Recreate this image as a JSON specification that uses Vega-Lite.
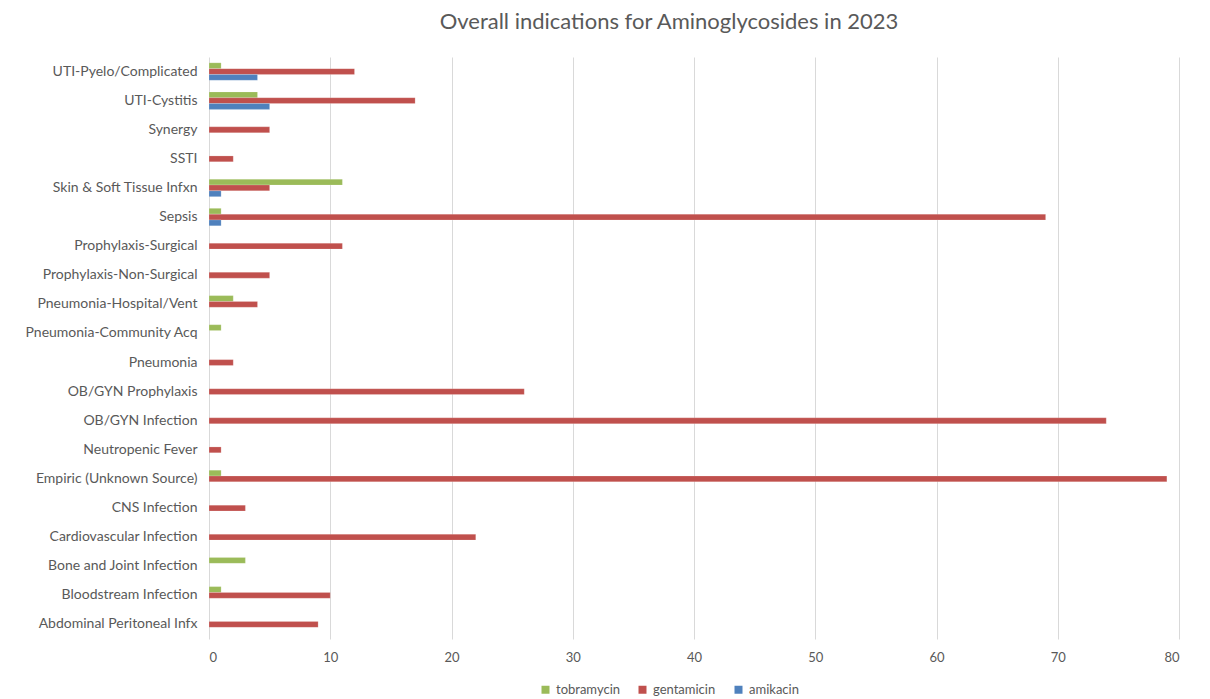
{
  "$schema": "https://vega.github.io/schema/vega-lite/v6.json",
  "autosize": {"type": "none"},
  "padding": {"left": 209, "top": 57, "right": 31, "bottom": 60},
  "width": 970,
  "height": 582,
  "background": "#ffffff",
  "view": {"stroke": null},
  "title": {
    "text": "Overall indications for Aminoglycosides in 2023",
    "font": "Lato",
    "fontSize": 22,
    "fontWeight": "normal",
    "color": "#595959",
    "anchor": "middle",
    "frame": "group",
    "dx": -25,
    "offset": 23
  },
  "data": {
    "values": [
      {"indication": "UTI-Pyelo/Complicated", "drug": "tobramycin", "count": 1},
      {"indication": "UTI-Pyelo/Complicated", "drug": "gentamicin", "count": 12},
      {"indication": "UTI-Pyelo/Complicated", "drug": "amikacin", "count": 4},
      {"indication": "UTI-Cystitis", "drug": "tobramycin", "count": 4},
      {"indication": "UTI-Cystitis", "drug": "gentamicin", "count": 17},
      {"indication": "UTI-Cystitis", "drug": "amikacin", "count": 5},
      {"indication": "Synergy", "drug": "gentamicin", "count": 5},
      {"indication": "SSTI", "drug": "gentamicin", "count": 2},
      {"indication": "Skin & Soft Tissue Infxn", "drug": "tobramycin", "count": 11},
      {"indication": "Skin & Soft Tissue Infxn", "drug": "gentamicin", "count": 5},
      {"indication": "Skin & Soft Tissue Infxn", "drug": "amikacin", "count": 1},
      {"indication": "Sepsis", "drug": "tobramycin", "count": 1},
      {"indication": "Sepsis", "drug": "gentamicin", "count": 69},
      {"indication": "Sepsis", "drug": "amikacin", "count": 1},
      {"indication": "Prophylaxis-Surgical", "drug": "gentamicin", "count": 11},
      {"indication": "Prophylaxis-Non-Surgical", "drug": "gentamicin", "count": 5},
      {"indication": "Pneumonia-Hospital/Vent", "drug": "tobramycin", "count": 2},
      {"indication": "Pneumonia-Hospital/Vent", "drug": "gentamicin", "count": 4},
      {"indication": "Pneumonia-Community Acq", "drug": "tobramycin", "count": 1},
      {"indication": "Pneumonia", "drug": "gentamicin", "count": 2},
      {"indication": "OB/GYN Prophylaxis", "drug": "gentamicin", "count": 26},
      {"indication": "OB/GYN Infection", "drug": "gentamicin", "count": 74},
      {"indication": "Neutropenic Fever", "drug": "gentamicin", "count": 1},
      {"indication": "Empiric (Unknown Source)", "drug": "tobramycin", "count": 1},
      {"indication": "Empiric (Unknown Source)", "drug": "gentamicin", "count": 79},
      {"indication": "CNS Infection", "drug": "gentamicin", "count": 3},
      {"indication": "Cardiovascular Infection", "drug": "gentamicin", "count": 22},
      {"indication": "Bone and Joint Infection", "drug": "tobramycin", "count": 3},
      {"indication": "Bloodstream Infection", "drug": "tobramycin", "count": 1},
      {"indication": "Bloodstream Infection", "drug": "gentamicin", "count": 10},
      {"indication": "Abdominal Peritoneal Infx", "drug": "gentamicin", "count": 9}
    ]
  },
  "mark": {"type": "bar", "stroke": "#ffffff", "strokeOpacity": 0.35, "strokeWidth": 0.5},
  "encoding": {
    "y": {
      "field": "indication",
      "type": "nominal",
      "sort": [
        "UTI-Pyelo/Complicated", "UTI-Cystitis", "Synergy", "SSTI", "Skin & Soft Tissue Infxn",
        "Sepsis", "Prophylaxis-Surgical", "Prophylaxis-Non-Surgical", "Pneumonia-Hospital/Vent",
        "Pneumonia-Community Acq", "Pneumonia", "OB/GYN Prophylaxis", "OB/GYN Infection",
        "Neutropenic Fever", "Empiric (Unknown Source)", "CNS Infection", "Cardiovascular Infection",
        "Bone and Joint Infection", "Bloodstream Infection", "Abdominal Peritoneal Infx"
      ],
      "scale": {"paddingInner": 0.4, "paddingOuter": 0.2},
      "axis": {
        "title": null,
        "ticks": false,
        "domain": false,
        "grid": false,
        "labelPadding": 12,
        "labelFont": "Lato",
        "labelFontSize": 14,
        "labelColor": "#595959"
      }
    },
    "yOffset": {
      "field": "drug",
      "type": "nominal",
      "sort": ["tobramycin", "gentamicin", "amikacin"],
      "scale": {"domain": ["tobramycin", "gentamicin", "amikacin"], "paddingInner": 0, "paddingOuter": 0}
    },
    "x": {
      "field": "count",
      "type": "quantitative",
      "scale": {"domain": [0, 80], "nice": false},
      "axis": {
        "title": null,
        "values": [0, 10, 20, 30, 40, 50, 60, 70, 80],
        "ticks": false,
        "domain": false,
        "grid": true,
        "gridColor": "#D9D9D9",
        "gridWidth": 1,
        "labelPadding": 12,
        "labelFont": "Lato",
        "labelFontSize": 13,
        "labelColor": "#595959"
      }
    },
    "color": {
      "field": "drug",
      "type": "nominal",
      "scale": {
        "domain": ["tobramycin", "gentamicin", "amikacin"],
        "range": ["#9BBB59", "#C0504D", "#4F81BD"]
      },
      "legend": {
        "title": null,
        "orient": "none",
        "direction": "horizontal",
        "legendX": 330,
        "legendY": 626,
        "symbolType": "square",
        "symbolSize": 64,
        "symbolStrokeWidth": 0,
        "labelFont": "Lato",
        "labelFontSize": 13,
        "labelColor": "#595959",
        "columnPadding": 16,
        "labelOffset": 4
      }
    }
  }
}
